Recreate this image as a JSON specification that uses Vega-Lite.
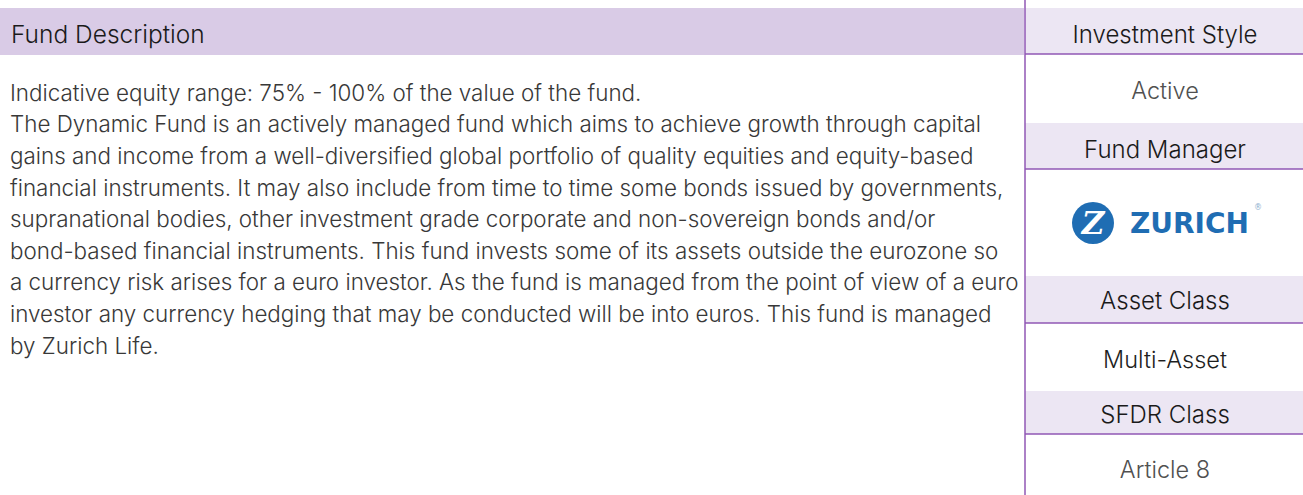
{
  "$schema": "https://vega.github.io/schema/vega-lite/v6.json",
  "width": 1303,
  "height": 495,
  "padding": 0,
  "autosize": {"type": "none"},
  "background": "#ffffff",
  "config": {"view": {"stroke": null}},
  "resolve": {"scale": {"color": "independent"}},
  "datasets": {
    "bars": [
      {"panel": "Fund Description", "kind": "main", "x1": 0, "x2": 1024, "y1": 8, "y2": 55},
      {"panel": "Investment Style", "kind": "side", "x1": 1025, "x2": 1303, "y1": 8, "y2": 54},
      {"panel": "Fund Manager", "kind": "side", "x1": 1025, "x2": 1303, "y1": 123, "y2": 169},
      {"panel": "Asset Class", "kind": "side", "x1": 1025, "x2": 1303, "y1": 276, "y2": 323},
      {"panel": "SFDR Class", "kind": "side", "x1": 1025, "x2": 1303, "y1": 391, "y2": 434}
    ],
    "lines": [
      {"name": "divider", "x1": 1025, "x2": 1025, "y1": 0, "y2": 495},
      {"name": "Investment Style", "x1": 1025, "x2": 1303, "y1": 54, "y2": 54},
      {"name": "Fund Manager", "x1": 1025, "x2": 1303, "y1": 169, "y2": 169},
      {"name": "Asset Class", "x1": 1025, "x2": 1303, "y1": 323, "y2": 323},
      {"name": "SFDR Class", "x1": 1025, "x2": 1303, "y1": 434, "y2": 434}
    ],
    "leftHead": [
      {"text": "Fund Description", "role": "head", "x": 11, "y": 42.5}
    ],
    "leftText": [
      {"text": "Indicative equity range: 75% - 100% of the value of the fund.", "line": 1, "x": 10, "y": 100.5},
      {"text": "The Dynamic Fund is an actively managed fund which aims to achieve growth through capital", "line": 2, "x": 10, "y": 132.2},
      {"text": "gains and income from a well-diversified global portfolio of quality equities and equity-based", "line": 3, "x": 10, "y": 163.8},
      {"text": "financial instruments. It may also include from time to time some bonds issued by governments,", "line": 4, "x": 10, "y": 195.5},
      {"text": "supranational bodies, other investment grade corporate and non-sovereign bonds and/or", "line": 5, "x": 10, "y": 227.1},
      {"text": "bond-based financial instruments. This fund invests some of its assets outside the eurozone so", "line": 6, "x": 10, "y": 258.8},
      {"text": "a currency risk arises for a euro investor. As the fund is managed from the point of view of a euro", "line": 7, "x": 10, "y": 290.4},
      {"text": "investor any currency hedging that may be conducted will be into euros. This fund is managed", "line": 8, "x": 10, "y": 322.1},
      {"text": "by Zurich Life.", "line": 9, "x": 10, "y": 353.7}
    ],
    "sideHead": [
      {"text": "Investment Style", "x": 1165, "y": 42.7},
      {"text": "Fund Manager", "x": 1165, "y": 157.7},
      {"text": "Asset Class", "x": 1165, "y": 309.3},
      {"text": "SFDR Class", "x": 1165, "y": 423.3}
    ],
    "sideValue": [
      {"text": "Active", "tone": "grey", "x": 1165, "y": 99.3},
      {"text": "Multi-Asset", "tone": "dark", "x": 1165, "y": 367.7},
      {"text": "Article 8", "tone": "grey", "x": 1165, "y": 478.3}
    ],
    "logo": [
      {"part": "badge", "x": 1093, "y": 223}
    ],
    "logoText": [
      {"part": "Z", "text": "Z", "x": 1093, "y": 234},
      {"part": "word", "text": "ZURICH", "x": 1130, "y": 233},
      {"part": "reg", "text": "®", "x": 1254, "y": 210}
    ]
  },
  "layer": [
    {
      "data": {"name": "bars"},
      "mark": {"type": "rect"},
      "encoding": {
        "x": {"field": "x1", "type": "quantitative", "scale": {"domain": [0, 1303], "range": [0, 1303], "nice": false, "zero": false}, "axis": null},
        "x2": {"field": "x2"},
        "y": {"field": "y1", "type": "quantitative", "scale": {"domain": [0, 495], "range": [0, 495], "nice": false, "zero": false}, "axis": null},
        "y2": {"field": "y2"},
        "color": {"field": "kind", "type": "nominal", "scale": {"domain": ["main", "side"], "range": ["#d9cbe6", "#ece6f3"]}, "legend": null}
      }
    },
    {
      "data": {"name": "lines"},
      "mark": {"type": "rule", "color": "#9157b5", "strokeWidth": 1.5},
      "encoding": {
        "x": {"field": "x1", "type": "quantitative", "axis": null},
        "x2": {"field": "x2"},
        "y": {"field": "y1", "type": "quantitative", "axis": null},
        "y2": {"field": "y2"}
      }
    },
    {
      "data": {"name": "leftHead"},
      "mark": {"type": "text", "align": "left", "baseline": "alphabetic", "font": "Inter", "fontWeight": 300, "fontSize": 24.5, "color": "#1a1a1a"},
      "encoding": {
        "x": {"field": "x", "type": "quantitative", "axis": null},
        "y": {"field": "y", "type": "quantitative", "axis": null},
        "text": {"field": "text"}
      }
    },
    {
      "data": {"name": "leftText"},
      "mark": {"type": "text", "align": "left", "baseline": "alphabetic", "font": "Inter", "fontWeight": 300, "fontSize": 22.4, "color": "#383838"},
      "encoding": {
        "x": {"field": "x", "type": "quantitative", "axis": null},
        "y": {"field": "y", "type": "quantitative", "axis": null},
        "text": {"field": "text"}
      }
    },
    {
      "data": {"name": "sideHead"},
      "mark": {"type": "text", "align": "center", "baseline": "alphabetic", "font": "Inter", "fontWeight": 300, "fontSize": 24, "color": "#1a1a1a"},
      "encoding": {
        "x": {"field": "x", "type": "quantitative", "axis": null},
        "y": {"field": "y", "type": "quantitative", "axis": null},
        "text": {"field": "text"}
      }
    },
    {
      "data": {"name": "sideValue"},
      "mark": {"type": "text", "align": "center", "baseline": "alphabetic", "font": "Inter", "fontWeight": 300, "fontSize": 23.5},
      "encoding": {
        "x": {"field": "x", "type": "quantitative", "axis": null},
        "y": {"field": "y", "type": "quantitative", "axis": null},
        "text": {"field": "text"},
        "color": {"field": "tone", "type": "nominal", "scale": {"domain": ["grey", "dark"], "range": ["#505050", "#1e1e1e"]}, "legend": null}
      }
    },
    {
      "data": {"name": "logo"},
      "mark": {"type": "point", "shape": "circle", "filled": true, "size": 1764, "color": "#1f6db3", "opacity": 1},
      "encoding": {
        "x": {"field": "x", "type": "quantitative", "axis": null},
        "y": {"field": "y", "type": "quantitative", "axis": null}
      }
    },
    {
      "data": {"name": "logoText"},
      "transform": [{"filter": "datum.part == 'Z'"}],
      "mark": {"type": "text", "align": "center", "baseline": "alphabetic", "font": "DejaVu Serif", "fontWeight": "bold", "fontStyle": "italic", "fontSize": 31, "color": "#ffffff"},
      "encoding": {
        "x": {"field": "x", "type": "quantitative", "axis": null},
        "y": {"field": "y", "type": "quantitative", "axis": null},
        "text": {"field": "text"}
      }
    },
    {
      "data": {"name": "logoText"},
      "transform": [{"filter": "datum.part == 'word'"}],
      "mark": {"type": "text", "align": "left", "baseline": "alphabetic", "font": "DejaVu Sans", "fontWeight": "bold", "fontSize": 28, "color": "#1f6db3"},
      "encoding": {
        "x": {"field": "x", "type": "quantitative", "axis": null},
        "y": {"field": "y", "type": "quantitative", "axis": null},
        "text": {"field": "text"}
      }
    },
    {
      "data": {"name": "logoText"},
      "transform": [{"filter": "datum.part == 'reg'"}],
      "mark": {"type": "text", "align": "left", "baseline": "alphabetic", "font": "DejaVu Sans", "fontSize": 8, "color": "#8fb0d0"},
      "encoding": {
        "x": {"field": "x", "type": "quantitative", "axis": null},
        "y": {"field": "y", "type": "quantitative", "axis": null},
        "text": {"field": "text"}
      }
    }
  ]
}
